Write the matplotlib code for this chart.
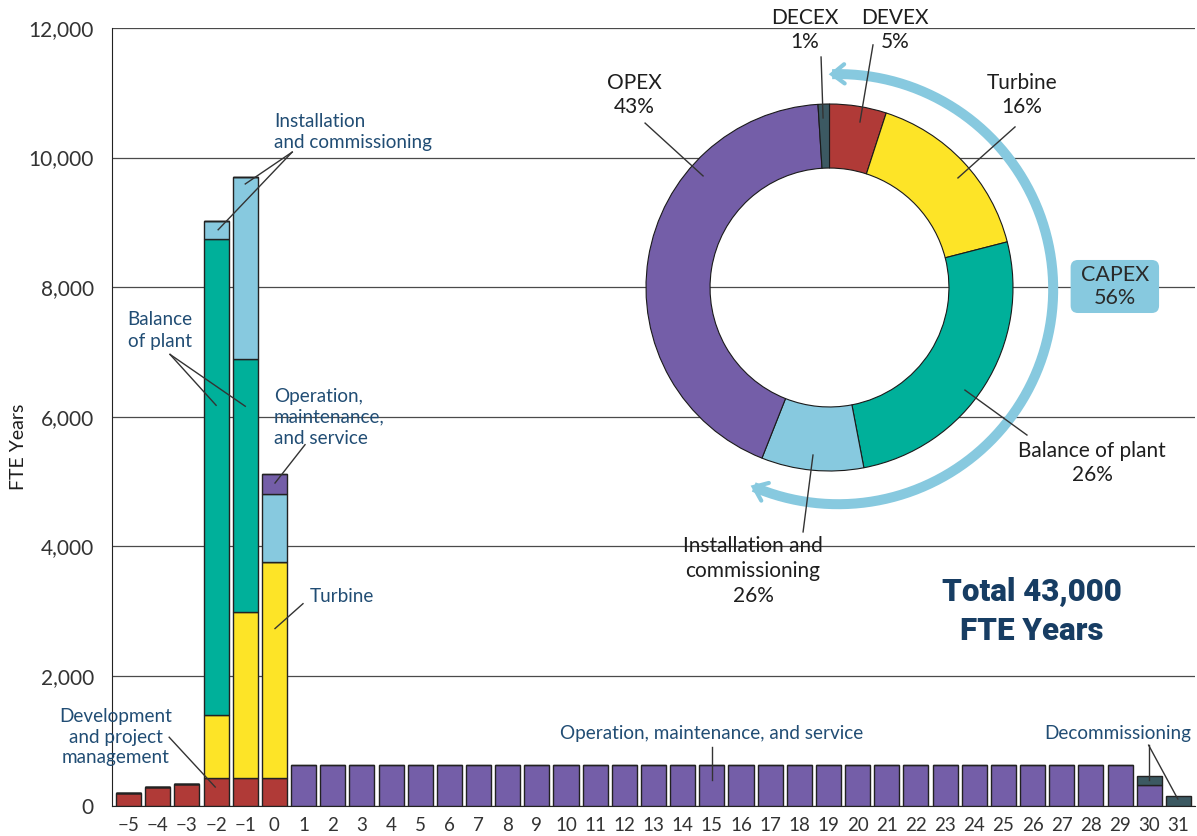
import matplotlib.pyplot as plt
import numpy as np
from matplotlib.patches import FancyBboxPatch

plt.rcParams['font.family'] = ['Lato', 'DejaVu Sans']

# ---- bar data (FTE years per project year) ----
years = list(range(-5, 32))
dev     = [200, 280, 330, 430, 430, 430] + [0] * 31
turbine = [0, 0, 0, 970, 2560, 3330] + [0] * 31
bop     = [0, 0, 0, 7340, 3900, 0] + [0] * 31
install = [0, 0, 0, 280, 2810, 1050] + [0] * 31
oms     = [0, 0, 0, 0, 0, 310] + [630] * 29 + [310, 0]
decom   = [0] * 35 + [150, 150]

# ---- donut data (share of total, clockwise from top) ----
pie_labels = ['DEVEX', 'Turbine', 'Balance of plant', 'Installation and commissioning', 'OPEX', 'DECEX']
pie_sizes = [5, 16, 26, 9, 43, 1]

c_dev = '#b03a37'
c_tur = '#fde427'
c_bop = '#00b09a'
c_ins = '#87c9df'
c_oms = '#745ea8'
c_dec = '#3c5962'
navy = '#214d74'
txt = '#1e1e1e'

fig = plt.figure(figsize=(11.97, 8.36), dpi=100)
ax = fig.add_axes([112 / 1197, 1 - 805.5 / 836, 1083 / 1197, 777.5 / 836])

x = np.array(years)
bottom = np.zeros(len(years))
for vals, col in [(dev, c_dev), (turbine, c_tur), (bop, c_bop), (install, c_ins), (oms, c_oms), (decom, c_dec)]:
    v = np.array(vals, dtype=float)
    ax.bar(x, v, bottom=bottom, width=0.86, color=col, edgecolor='#222222', linewidth=1.0, zorder=3)
    bottom += v

ax.set_xlim(-5.57, 31.57)
ax.set_ylim(0, 12000)
ax.set_yticks(range(0, 12001, 2000))
ax.set_yticklabels([f'{v:,}' for v in range(0, 12001, 2000)], fontsize=15, color='#333333')
ax.set_xticks(years)
ax.set_xticklabels([str(y).replace('-', '\u2212') for y in years], fontsize=13.5, color='#333333')
ax.tick_params(length=0)
ax.tick_params(axis='y', pad=13)
ax.tick_params(axis='x', pad=8)
ax.grid(axis='y', color='#4a4a4a', linewidth=0.9, zorder=0)
for s in ['top', 'right']:
    ax.spines[s].set_visible(False)
ax.spines['left'].set_color('#222222')
ax.spines['bottom'].set_color('#222222')
ax.set_axisbelow(True)
fig.text(18 / 1197, 1 - 447 / 836, 'FTE Years', rotation=90, fontsize=14, color=txt, ha='center', va='center')

# ---- bar annotations ----
fs = 13.6
lk = dict(color='#333333', lw=1.0, zorder=5)
ax.text(-0.02, 10400, 'Installation\nand commissioning', fontsize=fs, color=navy, ha='left', va='center', linespacing=1.3)
ax.plot([0.61, -1.93], [10085, 8886], **lk)
ax.plot([0.61, -1.0], [10085, 9593], **lk)
ax.text(-3.92, 7331, 'Balance\nof plant', fontsize=fs, color=navy, ha='center', va='center', linespacing=1.3)
ax.plot([-3.58, -2.0], [6962, 6177], **lk)
ax.plot([-3.58, -1.0], [6962, 6162], **lk)
ax.text(-0.02, 5992, 'Operation,\nmaintenance,\nand service', fontsize=fs, color=navy, ha='left', va='center', linespacing=1.3)
ax.plot([1.05, 0.02], [5569, 4977], **lk)
ax.text(1.22, 3223, 'Turbine', fontsize=fs, color=navy, ha='left', va='center')
ax.plot([0.98, 0.02], [3115, 2731], **lk)
ax.text(-5.45, 1054, 'Development\nand project\nmanagement', fontsize=fs, color=navy, ha='center', va='center', linespacing=1.25)
ax.plot([-3.61, -2.03], [1054, 285], **lk)
ax.text(15.0, 1115, 'Operation, maintenance, and service', fontsize=fs, color=navy, ha='center', va='center')
ax.plot([15.0, 15.0], [900, 392], **lk)
ax.text(28.92, 1115, 'Decommissioning', fontsize=fs, color=navy, ha='center', va='center')
ax.plot([29.98, 29.98], [931, 392], **lk)
ax.plot([29.98, 30.98], [931, 100], **lk)

ax.text(1032 / 1197, 1 - 611 / 836, 'Total 43,000\nFTE Years', transform=fig.transFigure,
        fontsize=22.5, fontweight='black', family=['Roboto', 'DejaVu Sans'], color='#173d63',
        ha='center', va='center', linespacing=1.4)

# ---- donut inset: 1 unit = 183.5 px, centre at (829.5, 287.5) px ----
R = 183.5
half = 1.25 * R
ax2 = fig.add_axes([(829.5 - half) / 1197, 1 - (287.5 + half) / 836, 2 * half / 1197, 2 * half / 836])
ax2.pie(pie_sizes, colors=[c_dev, c_tur, c_bop, c_ins, c_oms, c_dec], startangle=90, counterclock=False,
        radius=1, wedgeprops=dict(width=0.349, edgecolor='#1a1a1a', linewidth=0.8))
ax2.set_xlim(-1.25, 1.25)
ax2.set_ylim(-1.25, 1.25)
ax2.set_aspect('equal')
ax2.axis('off')

# CAPEX arc with open arrow heads
cx, cy, r = 0.047, -0.009, 1.172
th = np.radians(np.linspace(91.6, -113.1, 200))
ax2.plot(cx + r * np.cos(th), cy + r * np.sin(th), color=c_ins, lw=7.2, solid_capstyle='butt', clip_on=False)
for ang, sgn in [(91.6, 1), (-113.1, -1)]:
    a = np.radians(ang)
    tip = np.array([cx + r * np.cos(a), cy + r * np.sin(a)])
    d = sgn * np.array([-np.sin(a), np.cos(a)])
    pts = []
    for rot in [np.radians(38), -np.radians(38)]:
        rm = np.array([[np.cos(rot), -np.sin(rot)], [np.sin(rot), np.cos(rot)]])
        pts.append(tip - 0.085 * rm @ d)
    ax2.plot([pts[0][0], tip[0], pts[1][0]], [pts[0][1], tip[1], pts[1][1]], color=c_ins, lw=3.0,
             solid_capstyle='round', solid_joinstyle='miter', clip_on=False)

ax2.add_patch(FancyBboxPatch((1.314, -0.139), 0.482, 0.289, boxstyle='round,pad=0,rounding_size=0.04',
                             facecolor=c_ins, edgecolor='none', clip_on=False))
ax2.text(1.555, 0.005, 'CAPEX\n56%', fontsize=15.5, color='#2a2a2a', ha='center', va='center', linespacing=1.2)

pl = dict(color='#333333', lw=1.0, clip_on=False)
lab = dict(fontsize=15, color=txt, ha='center', va='center', linespacing=1.3)
ax2.text(-0.134, 1.403, 'DECEX\n1%', **lab)
ax2.plot([-0.046, -0.035], [1.256, 0.924], **pl)
ax2.text(0.357, 1.403, 'DEVEX\n5%', **lab)
ax2.plot([0.237, 0.166], [1.322, 0.902], **pl)
ax2.text(1.049, 1.049, 'Turbine\n16%', **lab)
ax2.plot([1.011, 0.700], [0.875, 0.597], **pl)
ax2.text(-1.065, 1.049, 'OPEX\n43%', **lab)
ax2.plot([-1.005, -0.689], [0.896, 0.608], **pl)
ax2.text(1.431, -0.956, 'Balance of plant\n26%', **lab)
ax2.plot([1.076, 0.738], [-0.804, -0.559], **pl)
ax2.text(-0.417, -1.545, 'Installation and\ncommissioning\n26%', **lab)
ax2.plot([-0.144, -0.090], [-1.332, -0.913], **pl)

fig.savefig('out.png', dpi=100)
